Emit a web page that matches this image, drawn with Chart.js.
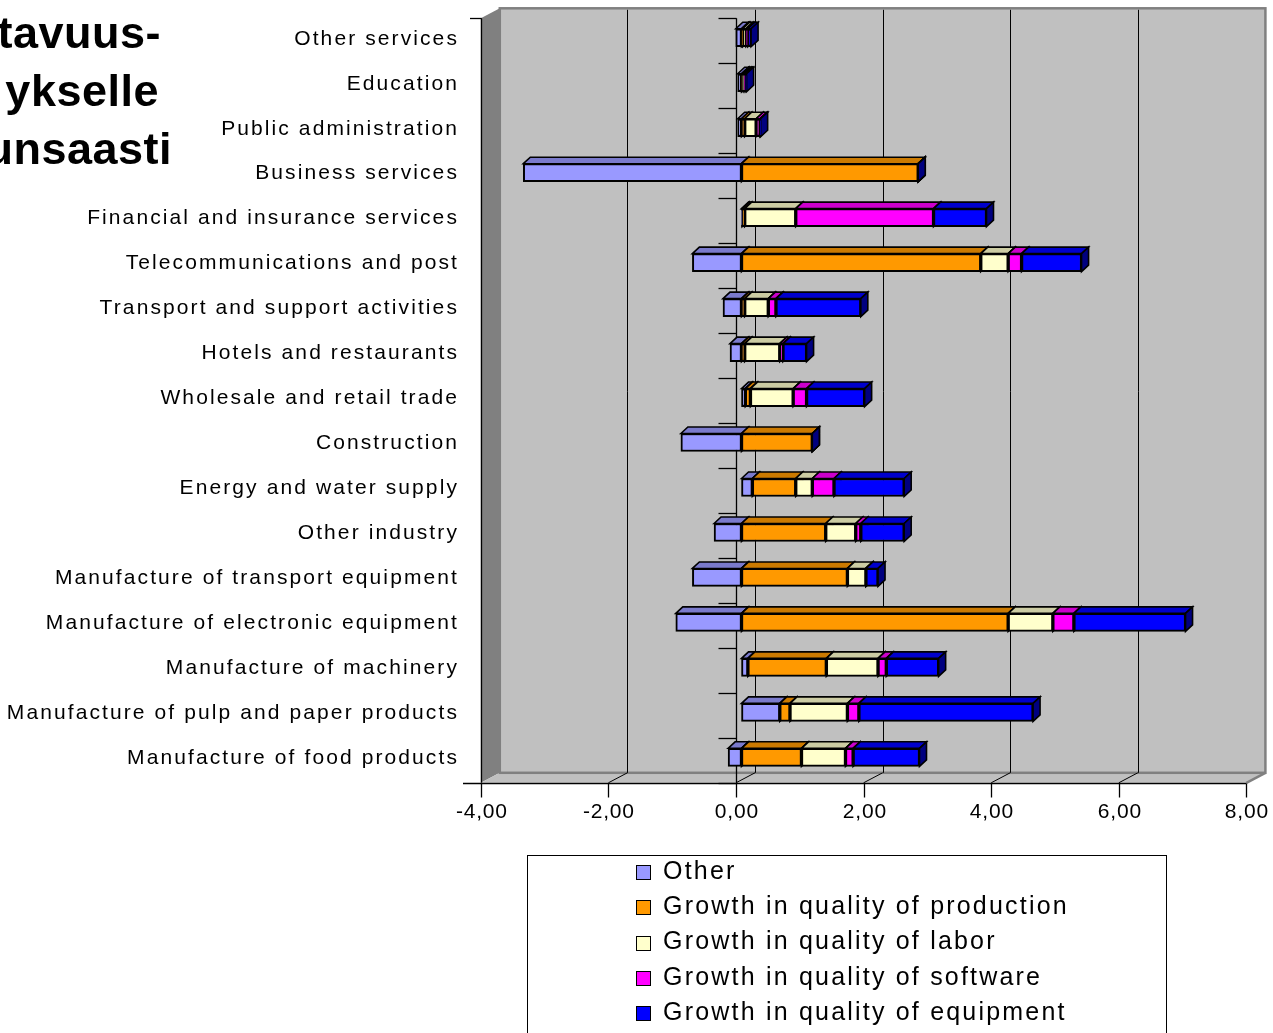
<!DOCTYPE html>
<html>
<head>
<meta charset="utf-8">
<script src="https://cdn.jsdelivr.net/npm/chart.js@4.4.1/dist/chart.umd.min.js"></script>
<style>
  html, body { margin: 0; padding: 0; background: #fff; overflow: hidden; }
  canvas { display: block; }
</style>
</head>
<body>
<canvas id="chart" width="1273" height="1033"></canvas>
<script>
// Industries, top to bottom
const categories = [
  'Other services',
  'Education',
  'Public administration',
  'Business services',
  'Financial and insurance services',
  'Telecommunications and post',
  'Transport and support activities',
  'Hotels and restaurants',
  'Wholesale and retail trade',
  'Construction',
  'Energy and water supply',
  'Other industry',
  'Manufacture of transport equipment',
  'Manufacture of electronic equipment',
  'Manufacture of machinery',
  'Manufacture of pulp and paper products',
  'Manufacture of food products'
];

const seriesNames = [
  'Other',
  'Growth in quality of production',
  'Growth in quality of labor',
  'Growth in quality of software',
  'Growth in quality of equipment'
];

// Contributions, percentage points
const other      = [-0.09, -0.06, -0.06, -3.42, 0.01, -0.77, -0.29, -0.18, 0.06, -0.95, 0.17, -0.43, -0.77, -1.03, 0.10, 0.60, -0.21];
const production = [ 0.02,  0.01,  0.05,  2.77, 0.04,  3.75,  0.05,  0.05, 0.08,  1.11, 0.68,  1.32,  1.66,  4.18, 1.23, 0.16,  0.94];
const labor      = [ 0.05,  0.03,  0.18,  0.00, 0.80,  0.43,  0.37,  0.55, 0.67,  0.00, 0.26,  0.47,  0.29,  0.70, 0.81, 0.90,  0.69];
const software   = [ 0.03,  0.02,  0.06,  0.00, 2.16,  0.21,  0.12,  0.05, 0.21,  0.00, 0.34,  0.08,  0.00,  0.33, 0.13, 0.18,  0.12];
const equipment  = [ 0.05,  0.02,  0.01,  0.00, 0.83,  0.94,  1.33,  0.37, 0.91,  0.00, 1.10,  0.68,  0.19,  1.75, 0.82, 2.73,  1.04];

const xTickValues = [-4, -2, 0, 2, 4, 6, 8];
const headingLines = ['tavuus-', 'ykselle', 'unsaasti'];

const fillColors = ['#9999FF', '#FF9900', '#FFFFCC', '#FF00FF', '#0000FF'];
const topColors  = ['#7A7ACC', '#CC7A00', '#CCCCA3', '#CC00CC', '#0000CC'];
const sideColors = ['#4D4D80', '#804D00', '#808066', '#800080', '#000080'];

const FONT = '"Liberation Sans", Arial, Helvetica, sans-serif';
// offsets of the front and back planes relative to the plane the bars sit in
const FRONT = { dx: -5.5, dy: 3 };
const BACK = { dx: 13.5, dy: -7 };
const BAR_DEPTH = { dx: 7, dy: -6.5 };

function poly(ctx, pts, fill, stroke, lw) {
  ctx.beginPath();
  ctx.moveTo(pts[0][0], pts[0][1]);
  for (let k = 1; k < pts.length; k++) ctx.lineTo(pts[k][0], pts[k][1]);
  ctx.closePath();
  if (fill) { ctx.fillStyle = fill; ctx.fill(); }
  if (stroke) { ctx.strokeStyle = stroke; ctx.lineWidth = lw || 1; ctx.stroke(); }
}
function line(ctx, x1, y1, x2, y2, color, lw) {
  ctx.beginPath();
  ctx.moveTo(x1, y1);
  ctx.lineTo(x2, y2);
  ctx.strokeStyle = color;
  ctx.lineWidth = lw || 1;
  ctx.stroke();
}
const fmt = v => v.toFixed(2).replace('.', ',');

const box3d = {
  id: 'box3d',
  beforeDraw(chart) {
    const { ctx, chartArea: a, scales: { x } } = chart;
    const xf = v => x.getPixelForValue(v) + FRONT.dx;
    const xb = v => x.getPixelForValue(v) + BACK.dx;
    const fTop = a.top + FRONT.dy, fBot = a.bottom + FRONT.dy;
    const bTop = a.top + BACK.dy, bBot = a.bottom + BACK.dy;
    const lo = x.min, hi = x.max;
    ctx.save();
    ctx.fillStyle = '#fff';
    ctx.fillRect(0, 0, chart.width, chart.height);

    // back wall
    ctx.fillStyle = '#C0C0C0';
    ctx.fillRect(xb(lo), bTop, xb(hi) - xb(lo), bBot - bTop);
    // side wall
    poly(ctx, [[xf(lo), fTop], [xb(lo), bTop], [xb(lo), bBot], [xf(lo), fBot]], '#808080');
    // floor
    poly(ctx, [[xf(lo), fBot], [xb(lo), bBot], [xb(hi), bBot], [xf(hi), fBot]], '#C0C0C0');
    ctx.strokeStyle = '#808080';
    ctx.lineWidth = 2.5;
    ctx.strokeRect(xb(lo), bTop, xb(hi) - xb(lo), bBot - bTop);
    line(ctx, xb(hi), bBot, xf(hi), fBot, '#808080', 2.5);

    // gridlines on the wall and the floor
    xTickValues.forEach(v => {
      if (v <= lo || v >= hi) return;
      line(ctx, Math.round(xb(v)) + 0.5, bTop + 1.5, Math.round(xb(v)) + 0.5, bBot, '#000', 1);
      line(ctx, xb(v), bBot, xf(v), fBot, '#000', 1);
    });

    // category axis through zero
    const y = chart.scales.y;
    const step = y.getPixelForValue(1) - y.getPixelForValue(0);
    const ax = Math.round(xf(0)) + 0.5;
    line(ctx, ax, fTop, ax, fBot, '#000', 1.3);
    for (let k = 0; k <= categories.length; k++) {
      const ty = Math.round(a.top + k * step + FRONT.dy) + 0.5;
      line(ctx, ax - 18, ty, ax, ty, '#000', 1.3);
    }
    ctx.restore();
  },
  beforeDatasetsDraw(chart) {
    const { ctx, scales: { x } } = chart;
    const sets = chart.data.datasets;
    ctx.save();
    ctx.lineJoin = 'miter';
    categories.forEach((_, i) => {
      const el = chart.getDatasetMeta(0).data[i];
      const top = el.y - el.height / 2, bot = el.y + el.height / 2;
      let pos = 0, neg = 0;
      const segs = [];
      sets.forEach((ds, d) => {
        const v = ds.data[i];
        let from, to;
        if (v < 0) { from = neg + v; to = neg; neg += v; }
        else { from = pos; to = pos + v; pos += v; }
        segs.push({ l: x.getPixelForValue(from), r: x.getPixelForValue(to), d });
      });
      segs.sort((p, q) => (p.l - q.l) || (p.d - q.d));
      const { dx, dy } = BAR_DEPTH;
      segs.forEach(s => {
        poly(ctx, [[s.l, top], [s.l + dx, top + dy], [s.r + dx, top + dy], [s.r, top]], topColors[s.d], '#000', 1.6);
        poly(ctx, [[s.r, top], [s.r + dx, top + dy], [s.r + dx, bot + dy], [s.r, bot]], sideColors[s.d], '#000', 1.6);
      });
    });
    ctx.restore();
  },
  afterDraw(chart) {
    const { ctx, chartArea: a, scales: { x, y } } = chart;
    const xf = v => x.getPixelForValue(v) + FRONT.dx;
    const fTop = a.top + FRONT.dy, fBot = a.bottom + FRONT.dy;
    ctx.save();

    // value axis along the front edge of the floor
    const by = Math.round(fBot) + 0.5;
    line(ctx, 463, by, xf(x.max), by, '#000', 1.3);
    const lx = Math.round(xf(x.min)) + 0.5;
    line(ctx, lx, fTop, lx, fBot, '#000', 1.3);
    line(ctx, 470, Math.round(fTop) + 0.5, lx, Math.round(fTop) + 0.5, '#000', 1.3);
    ctx.font = '21px ' + FONT;
    ctx.letterSpacing = '0.8px';
    ctx.textAlign = 'center';
    ctx.textBaseline = 'middle';
    ctx.fillStyle = '#000';
    xTickValues.forEach(v => {
      const px = Math.round(xf(v)) + 0.5;
      line(ctx, px, by, px, by + 14, '#000', 1.3);
      ctx.fillText(fmt(v), px + 0.4, 812);
    });

    // category labels
    ctx.font = '21px ' + FONT;
    ctx.letterSpacing = '2.1px';
    ctx.textAlign = 'right';
    categories.forEach((c, i) => {
      ctx.fillText(c, 459, y.getPixelForValue(i) + 1);
    });

    // legend
    ctx.letterSpacing = '0px';
    ctx.strokeStyle = '#000';
    ctx.lineWidth = 1;
    ctx.strokeRect(527.5, 855.5, 639, 200);
    ctx.font = '25px ' + FONT;
    ctx.letterSpacing = '2.2px';
    ctx.textAlign = 'left';
    chart.data.datasets.forEach((ds, d) => {
      const ry = 872 + d * 35.25;
      const sy = Math.round(ry - 7) + 0.5;
      ctx.fillStyle = ds.backgroundColor;
      ctx.fillRect(636.5, sy, 14, 14);
      ctx.strokeStyle = '#000';
      ctx.strokeRect(636.5, sy, 14, 14);
      ctx.fillStyle = '#000';
      ctx.fillText(ds.label, 663, ry);
    });

    // heading fragment at the left edge
    ctx.font = 'bold 45px ' + FONT;
    ctx.letterSpacing = '0.5px';
    ctx.textAlign = 'right';
    ctx.textBaseline = 'alphabetic';
    const ends = [161, 159, 172];
    const bases = [48, 106, 164];
    headingLines.forEach((t, k) => ctx.fillText(t, ends[k], bases[k]));
    ctx.restore();
  }
};

const seriesValues = [other, production, labor, software, equipment];

new Chart(document.getElementById('chart'), {
  type: 'bar',
  data: {
    labels: categories,
    datasets: seriesNames.map((name, d) => ({
      label: name,
      data: seriesValues[d],
      backgroundColor: fillColors[d],
      borderColor: '#000',
      borderWidth: 2,
      borderSkipped: false,
      barThickness: 18
    }))
  },
  options: {
    indexAxis: 'y',
    responsive: false,
    animation: false,
    layout: { padding: { left: 486.3, right: 21.1, top: 15.3, bottom: 253.2 } },
    scales: {
      x: { type: 'linear', stacked: true, min: -4, max: 8, ticks: { stepSize: 2 }, display: false },
      y: { stacked: true, display: false }
    },
    plugins: { legend: { display: false }, tooltip: { enabled: false } }
  },
  plugins: [box3d]
});
</script>
</body>
</html>
